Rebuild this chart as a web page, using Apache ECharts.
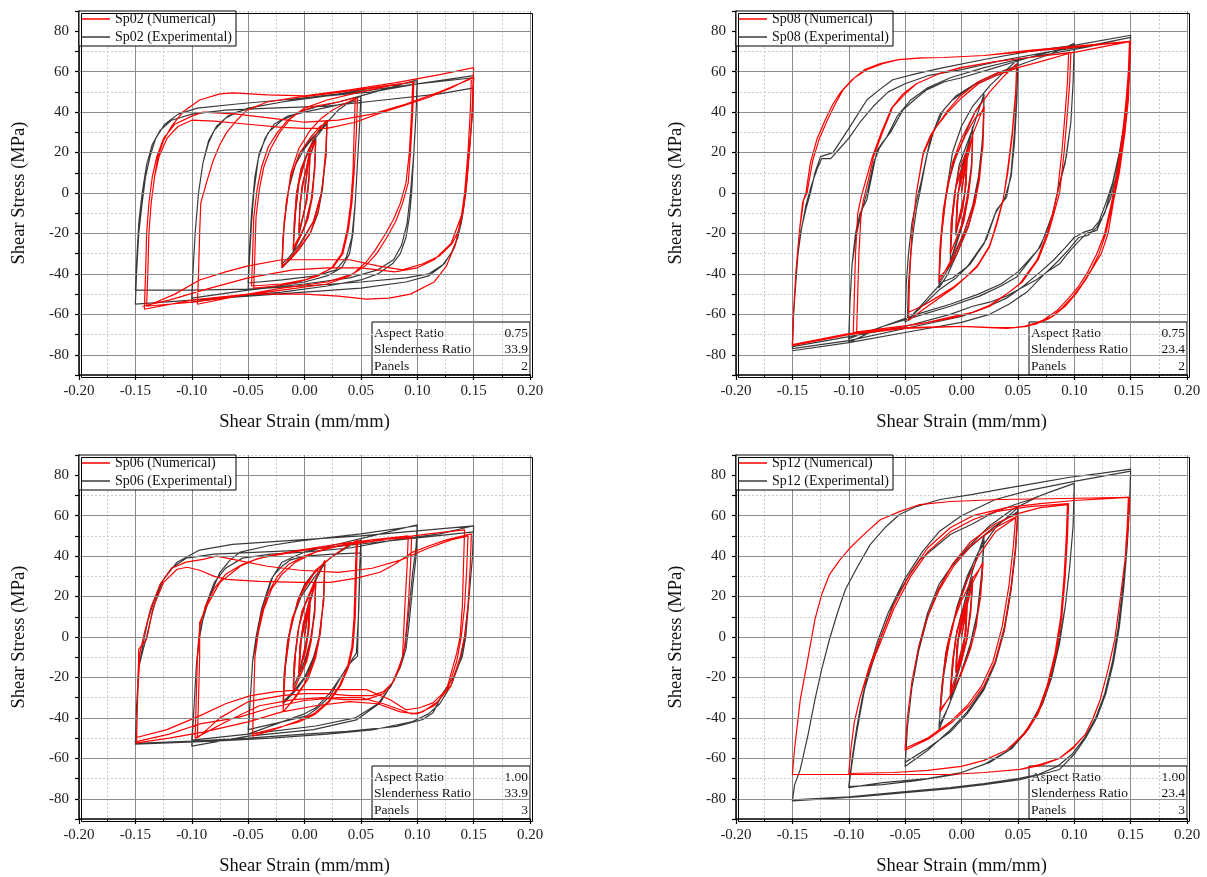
<!DOCTYPE html>
<html><head><meta charset="utf-8">
<script src="https://cdn.jsdelivr.net/npm/echarts@6.0.0/dist/echarts.min.js"></script>
<style>html,body{margin:0;padding:0;background:#fff}#c{width:1207px;height:877px}</style>
</head><body><div id="c"></div>
<script>
const xMin=-0.2, xMax=0.2, xStep=0.05;
const yMin=-90, yMax=90, yStep=10;
const yMajor=[-80,-60,-40,-20,0,20,40,60,80];
const specimens=['Sp02','Sp08','Sp06','Sp12'];
const infoLabels=['Aspect Ratio','Slenderness Ratio','Panels'];
const aspectRatios=['0.75','0.75','1.00','1.00'];
const slendernessRatios=['33.9','23.4','33.9','23.4'];
const panelCounts=['2','2','3','3'];

const sp02Exp=[
[0,0],[0.003,14],[0.005,21],[0.004,8],[0.002,-3],[-0.002,-13],[-0.005,-20],[-0.004,-7],[-0.002,3],[0.002,13],[0.005,22],[0.004,8],[0.001,-6],[-0.005,-21],[-0.004,-6],[-0.001,6],
[0.004,17],[0.008,24],[0.01,28],[0.009,14],[0.007,0],[0.003,-12],[-0.004,-22],[-0.01,-29],[-0.009,-15],[-0.007,0],[-0.003,12],[0.004,22],[0.01,27],[0.009,12],[0.006,-3],[0,-17],[-0.01,-28],[-0.008,-10],[-0.005,5],
[0.001,17],[0.008,26],[0.015,31],[0.02,35],[0.019,20],[0.016,2],[0.012,-10],[0.005,-20],[-0.005,-28],[-0.013,-33],[-0.02,-37],[-0.019,-22],[-0.016,-5],[-0.012,8],[-0.004,20],[0.006,27],[0.014,31],[0.02,34],[0.019,18],[0.015,0],[0.008,-14],[-0.004,-25],[-0.014,-32],[-0.02,-35],[-0.018,-15],[-0.014,2],
[-0.008,14],[0,22],[0.01,29],[0.02,35],[0.03,41],[0.04,45],[0.05,48],[0.049,35],[0.047,15],[0.045,-5],[0.043,-20],[0.04,-30],[0.033,-37],[0.02,-41],[0,-44],[-0.025,-46],[-0.05,-48],
[-0.049,-35],[-0.047,-15],[-0.045,0],[-0.041,17],[-0.035,27],[-0.027,34],[-0.015,38],[0,40],[0.025,43],[0.05,46],[0.049,35],[0.047,15],[0.045,-5],[0.042,-22],[0.037,-32],[0.028,-38],[0.01,-41],[-0.02,-43],[-0.05,-44.5],
[-0.049,-30],[-0.047,-10],[-0.044,8],[-0.04,20],[-0.032,30],[-0.02,36],[0,41],[0.03,45],[0.05,48],[0.075,52],[0.1,56],
[0.099,40],[0.097,20],[0.095,0],[0.093,-12],[0.09,-22],[0.085,-30],[0.078,-35],[0.065,-40],[0.05,-43],[0.02,-46],[-0.02,-49],[-0.06,-51],[-0.1,-54],
[-0.099,-40],[-0.097,-20],[-0.094,0],[-0.09,15],[-0.085,25],[-0.08,31],[-0.07,37],[-0.06,40],[-0.04,43],[-0.02,45],[0,47],[0.03,49],[0.06,52],[0.1,55],
[0.099,40],[0.097,20],[0.094,0],[0.091,-15],[0.086,-26],[0.079,-33],[0.065,-38],[0.04,-42],[0,-45],[-0.05,-48],[-0.1,-52],
[-0.099,-40],[-0.097,-20],[-0.094,0],[-0.09,15],[-0.085,26],[-0.078,33],[-0.068,38],[-0.05,42],[-0.02,45],[0.02,48],[0.06,51],[0.1,54],[0.15,58],
[0.149,40],[0.146,20],[0.143,0],[0.14,-12],[0.136,-22],[0.13,-30],[0.122,-36],[0.11,-41],[0.09,-44],[0.05,-47],[0,-49],[-0.05,-51],[-0.1,-53],[-0.15,-55],
[-0.149,-40],[-0.147,-20],[-0.144,-5],[-0.141,8],[-0.137,18],[-0.132,27],[-0.124,34],[-0.112,39],[-0.095,42],[-0.06,44],[-0.02,46],[0.02,48],[0.06,50],[0.1,54],[0.15,57],
[0.149,40],[0.146,20],[0.143,0],[0.139,-15],[0.133,-27],[0.124,-35],[0.11,-40],[0.09,-42],[0.05,-44],[0,-46],[-0.05,-47.5],[-0.1,-48],[-0.15,-48],
[-0.149,-35],[-0.147,-15],[-0.144,0],[-0.14,14],[-0.135,24],[-0.128,31],[-0.118,36],[-0.1,39],[-0.07,41],[-0.03,42],[0.02,43],[0.07,46],[0.12,49],[0.15,52]
];
const sp02Num=[
[0,0],[0.003,13],[0.005,20],[0.004,6],[0.002,-4],[-0.002,-13],[-0.005,-19],[-0.004,-6],[-0.002,4],[0.002,13],[0.005,21],[0.004,6],[0.001,-6],[-0.005,-20],[-0.004,-5],[-0.001,6],
[0.004,17],[0.008,23],[0.01,26],[0.009,12],[0.007,-2],[0.003,-13],[-0.004,-22],[-0.01,-28],[-0.009,-14],[-0.007,0],[-0.003,12],[0.004,21],[0.01,26],[0.009,11],[0.006,-4],[0,-17],[-0.01,-27],[-0.008,-9],[-0.005,5],
[0.001,17],[0.008,27],[0.015,33],[0.02,36],[0.019,22],[0.016,4],[0.012,-9],[0.005,-20],[-0.005,-28],[-0.013,-33],[-0.02,-36],[-0.019,-22],[-0.016,-4],[-0.012,8],[-0.004,20],[0.006,28],[0.014,33],[0.02,35],[0.019,19],[0.015,0],[0.008,-14],[-0.004,-26],[-0.014,-33],[-0.02,-37],[-0.018,-14],[-0.014,2],
[-0.012,10],[-0.005,22],[0.005,31],[0.015,37],[0.025,41],[0.035,44],[0.047,47],
[0.046,30],[0.044,10],[0.042,-5],[0.039,-18],[0.034,-30],[0.025,-37],[0.014,-40],[0,-43],[-0.02,-45],[-0.047,-46],
[-0.046,-30],[-0.045,-12],[-0.042,2],[-0.038,13],[-0.032,23],[-0.024,30],[-0.015,36],[-0.005,40],[0.01,43],[0.03,45],[0.045,47],
[0.044,30],[0.043,10],[0.041,-5],[0.038,-18],[0.033,-30],[0.024,-37],[0.012,-41],[-0.005,-44],[-0.025,-46],[-0.045,-47],
[-0.044,-30],[-0.043,-12],[-0.04,2],[-0.036,13],[-0.03,22],[-0.022,30],[-0.012,37],[0,42],[0.02,46],[0.05,50],[0.075,53],[0.096,55],
[0.095,40],[0.093,20],[0.09,5],[0.085,-5],[0.079,-13],[0.072,-20],[0.063,-28],[0.055,-34],[0.043,-40],[0.02,-44],[-0.02,-47],[-0.06,-51],[-0.095,-55],
[-0.094,-40],[-0.093,-20],[-0.092,-5],[-0.087,5],[-0.081,16],[-0.075,24],[-0.069,30],[-0.06,36],[-0.051,41],[-0.033,45],[-0.01,47],[0.02,49],[0.06,52],[0.097,55],
[0.096,40],[0.094,20],[0.092,5],[0.087,-5],[0.081,-14],[0.073,-22],[0.064,-30],[0.054,-36],[0.04,-41],[0.02,-45],[-0.02,-48],[-0.06,-51],[-0.1,-54],[-0.14,-56],
[-0.139,-40],[-0.138,-20],[-0.136,-5],[-0.133,8],[-0.13,18],[-0.125,26],[-0.118,33],[-0.108,40],[-0.093,46],[-0.075,49],[-0.063,49.5],[-0.033,48.5],[0,48],[0.04,51],[0.08,54.5],[0.12,58.5],[0.15,62],
[0.149,45],[0.147,25],[0.144,5],[0.141,-8],[0.137,-18],[0.131,-25],[0.12,-31],[0.105,-35],[0.087,-38],[0.065,-36],[0.04,-33],[0.01,-33],[-0.02,-33],[-0.05,-36],[-0.07,-39],[-0.093,-43],[-0.115,-50],[-0.14,-56],
[-0.139,-40],[-0.138,-20],[-0.136,-5],[-0.133,8],[-0.129,18],[-0.122,27],[-0.112,33],[-0.1,36],[-0.08,35.5],[-0.05,34],[-0.02,32.5],[0,32],[0.02,32],[0.045,35],[0.067,39.5],[0.09,43.5],[0.111,47.5],[0.13,52],[0.148,57],
[0.147,40],[0.145,20],[0.142,0],[0.139,-12],[0.134,-25],[0.126,-36],[0.115,-44],[0.094,-50],[0.075,-52],[0.055,-52.5],[0.03,-51],[0,-50],[-0.05,-50],[-0.1,-53],[-0.142,-57.5],
[-0.141,-40],[-0.14,-20],[-0.138,-5],[-0.135,8],[-0.131,18],[-0.125,27],[-0.115,34],[-0.1,38],[-0.09,40],[-0.06,39],[-0.03,37],[0,35],[0.03,36],[0.06,39],[0.09,44],[0.12,50],[0.15,57],
[0.149,40],[0.146,20],[0.143,0],[0.14,-10],[0.13,-25],[0.115,-33],[0.1,-37],[0.08,-39],[0.05,-37],[0.02,-37],[-0.01,-38],[-0.05,-42],[-0.09,-48],[-0.12,-53],[-0.144,-56]
];

const sp08Exp=[
[0,0],[0.003,12],[0.005,20],[0.004,5],[0.001,-8],[-0.005,-20],[-0.004,-5],[-0.001,8],[0.005,21],[0.003,0],[-0.005,-21],[-0.003,0],
[0.003,15],[0.01,33],[0.009,15],[0.006,0],[0.002,-14],[-0.01,-35],[-0.009,-15],[-0.006,0],[-0.002,14],[0.01,32],[0.009,14],[0.005,-2],[0,-16],[-0.01,-34],[-0.008,-12],[-0.005,3],
[0.002,16],[0.01,32],[0.02,49],[0.019,30],[0.016,10],[0.012,-4],[0.006,-16],[-0.004,-30],[-0.012,-40],[-0.02,-47],[-0.019,-30],[-0.016,-10],[-0.012,4],[-0.006,16],[0.004,30],[0.012,40],[0.02,47],[0.019,28],[0.015,8],[0.01,-6],[0.002,-20],[-0.01,-36],[-0.02,-45],[-0.018,-22],[-0.014,-2],
[-0.008,20],[0,33],[0.01,43],[0.025,53],[0.038,60],[0.05,66],[0.049,50],[0.047,30],[0.044,10],[0.04,-2],[0.031,-8.5],[0.022,-23],[0.012,-31],[0.005,-36.5],[-0.008,-42],[-0.017,-44],[-0.03,-52],[-0.048,-63],
[-0.047,-45],[-0.045,-30],[-0.043,-20],[-0.04,-8],[-0.037,0],[-0.033,12],[-0.028,26],[-0.019,39],[-0.008,46],[0.01,53],[0.03,58],[0.05,62],
[0.049,45],[0.047,25],[0.044,8],[0.038,-3],[0.03,-10],[0.02,-25],[0.008,-35],[-0.005,-42],[-0.02,-48],[-0.035,-56],[-0.05,-64],
[-0.049,-45],[-0.047,-30],[-0.044,-15],[-0.04,-4],[-0.036,5],[-0.031,18],[-0.025,30],[-0.016,41],[-0.005,48],[0.015,55],[0.035,60],[0.06,65],[0.08,69],[0.1,74],
[0.099,55],[0.097,35],[0.093,18],[0.087,5],[0.081,-10],[0.075,-19],[0.07,-26.5],[0.065,-30],[0.058,-35],[0.049,-41.5],[0.035,-46],[0.016,-51],[-0.01,-56],[-0.04,-61],[-0.07,-66],[-0.1,-72],
[-0.099,-55],[-0.097,-35],[-0.094,-20],[-0.09,-10],[-0.084,-3.5],[-0.079,10],[-0.075,21],[-0.07,25],[-0.063,30],[-0.052,41],[-0.042,46],[-0.031,51],[-0.015,55],[0,57],[0.03,62],[0.06,67],[0.1,73],
[0.099,55],[0.097,35],[0.092,15],[0.086,2],[0.08,-12],[0.074,-21],[0.068,-28],[0.06,-33],[0.05,-39],[0.035,-45],[0.015,-50],[-0.01,-55],[-0.04,-60],[-0.07,-66],[-0.1,-74],
[-0.099,-55],[-0.097,-35],[-0.093,-20],[-0.088,-8],[-0.083,2],[-0.078,15],[-0.073,22],[-0.066,28],[-0.057,38],[-0.045,46],[-0.03,52],[-0.01,57],[0.02,62],[0.05,66],[0.08,69],[0.11,72],[0.15,77],
[0.149,60],[0.147,46],[0.142,25],[0.137,8],[0.132,-3],[0.125,-12],[0.12,-18.5],[0.111,-20],[0.102,-25],[0.094,-30],[0.087,-35],[0.076,-39],[0.066,-43],[0.053,-47],[0.04,-51],[0.025,-54],[0.01,-56],[-0.01,-60],[-0.05,-66],[-0.1,-71],[-0.15,-76],
[-0.149,-60],[-0.147,-45],[-0.145,-30],[-0.143,-20],[-0.138,-8],[-0.134,0],[-0.13,10],[-0.125,18],[-0.114,20],[-0.108,25],[-0.101,31],[-0.093,38],[-0.084,46],[-0.073,51],[-0.061,56],[-0.04,59],[-0.016,62],[0.02,66],[0.06,70],[0.1,73],[0.15,78],
[0.149,60],[0.146,40],[0.14,20],[0.134,5],[0.128,-5],[0.122,-14],[0.116,-18],[0.108,-19.5],[0.1,-22],[0.092,-27],[0.082,-33],[0.07,-39],[0.055,-46],[0.04,-52],[0.02,-57],[0,-61],[-0.05,-67],[-0.1,-73],[-0.15,-77],
[-0.149,-60],[-0.147,-45],[-0.145,-30],[-0.142,-18],[-0.138,-6],[-0.133,4],[-0.128,12],[-0.124,17],[-0.116,17],[-0.108,22],[-0.1,27],[-0.09,35],[-0.078,43],[-0.065,50],[-0.05,54],[-0.03,58],[0,61],[0.04,66],[0.08,70],[0.115,73],[0.15,77],
[0.149,60],[0.146,40],[0.14,20],[0.134,4],[0.127,-10],[0.12,-17],[0.112,-21],[0.104,-22],[0.095,-28],[0.085,-34],[0.072,-41],[0.058,-49],[0.042,-55],[0.025,-60],[0,-64],[-0.05,-69],[-0.1,-74],[-0.15,-78]
];
const sp08Num=[
[0,0],[0.003,11],[0.005,18],[0.004,4],[0.001,-8],[-0.005,-19],[-0.004,-5],[-0.001,7],[0.005,18],[0.003,0],[-0.005,-19],[-0.003,0],
[0.003,12],[0.01,28],[0.009,12],[0.006,-2],[0.002,-14],[-0.01,-30],[-0.009,-14],[-0.006,0],[-0.002,12],[0.01,28],[0.009,12],[0.005,-3],[0,-16],[-0.01,-30],[-0.008,-12],[-0.005,3],
[0.002,14],[0.01,29],[0.02,43],[0.019,25],[0.016,7],[0.012,-5],[0.006,-17],[-0.004,-30],[-0.012,-37],[-0.02,-42],[-0.019,-26],[-0.016,-8],[-0.012,5],[-0.006,17],[0.004,29],[0.012,37],[0.02,41],[0.019,23],[0.015,5],[0.01,-7],[0.002,-20],[-0.01,-34],[-0.02,-44],[-0.018,-22],[-0.014,-3],
[-0.008,15],[0,27],[0.012,40],[0.025,50],[0.038,58],[0.049,64],[0.048,50],[0.045,30],[0.041,12],[0.037,-3.5],[0.031,-16],[0.025,-26.5],[0.014,-36.5],[0.003,-42],[-0.007,-46.5],[-0.02,-51],[-0.035,-56],[-0.047,-59],
[-0.046,-40],[-0.044,-20],[-0.04,0],[-0.034,20],[-0.027,29],[-0.022,33],[-0.012,41],[-0.001,48],[0.015,55],[0.03,59],[0.049,62],
[0.048,48],[0.045,28],[0.041,10],[0.037,-3],[0.031,-15],[0.025,-26],[0.014,-36],[0.003,-42],[-0.007,-47],[-0.02,-52],[-0.035,-58],[-0.047,-63],
[-0.046,-42],[-0.044,-20],[-0.04,0],[-0.034,19],[-0.027,28],[-0.022,33],[-0.012,40],[0,47],[0.015,54],[0.03,58],[0.05,62],[0.07,65],[0.095,69],
[0.094,55],[0.092,40],[0.089,20],[0.085,0],[0.081,-10],[0.076,-20],[0.067,-33],[0.052,-44.7],[0.04,-50],[0.025,-56],[0.01,-59],[-0.007,-61],[-0.03,-64],[-0.06,-66.5],[-0.093,-68.6],
[-0.092,-50],[-0.091,-30],[-0.089,-10],[-0.087,-3.5],[-0.082,8],[-0.078,18],[-0.07,30],[-0.061,42.5],[-0.05,49],[-0.04,54],[-0.02,59],[-0.001,62],[0.03,65],[0.06,67],[0.097,69.5],
[0.096,55],[0.094,40],[0.091,20],[0.087,0],[0.082,-10],[0.077,-20],[0.068,-33],[0.054,-44],[0.04,-50],[0.025,-55.5],[0.01,-59],[-0.01,-62],[-0.04,-65],[-0.07,-67],[-0.096,-69],
[-0.095,-50],[-0.094,-30],[-0.092,-10],[-0.089,-2],[-0.084,8],[-0.079,18],[-0.071,30],[-0.062,42],[-0.052,49],[-0.04,54],[-0.02,59],[0,62],[0.03,65],[0.06,67],[0.1,69.5],[0.15,75],
[0.149,60],[0.148,46],[0.145,30],[0.14,10],[0.135,-3.5],[0.13,-20],[0.124,-30],[0.117,-36.5],[0.11,-43],[0.102,-49.5],[0.092,-56],[0.081,-61],[0.068,-64],[0.055,-66],[0.04,-67],[0.02,-66.5],[0,-66],[-0.05,-67],[-0.1,-70],[-0.15,-75],
[-0.149,-60],[-0.147,-40],[-0.144,-20],[-0.14,-3.5],[-0.137,0],[-0.132,16],[-0.126,27],[-0.119,36],[-0.112,44],[-0.105,51],[-0.095,57],[-0.084,61],[-0.07,64],[-0.055,66],[-0.035,66.8],[-0.016,67],[0.02,68],[0.06,70],[0.1,72],[0.15,75],
[0.149,60],[0.147,46],[0.144,30],[0.139,10],[0.134,-5],[0.128,-20],[0.122,-30],[0.115,-38],[0.107,-45],[0.099,-51],[0.089,-57],[0.078,-62],[0.065,-65],[0.05,-66.5],[0.03,-66.5],[0,-66],[-0.05,-67],[-0.1,-70],[-0.15,-75.5],
[-0.149,-60],[-0.147,-40],[-0.144,-20],[-0.141,-5],[-0.138,0],[-0.134,15],[-0.128,27],[-0.121,36],[-0.114,44],[-0.107,50],[-0.097,56],[-0.086,61],[-0.072,64],[-0.056,66],[-0.036,66.8],[-0.016,67],[0.02,68],[0.06,70.5],[0.1,72.5],[0.149,75],
[0.148,60],[0.146,46],[0.143,30],[0.138,10],[0.133,-5],[0.127,-20],[0.12,-30],[0.112,-39],[0.104,-46],[0.095,-52],[0.085,-58],[0.072,-63],[0.058,-66],[0.04,-67],[0.02,-66.5],[0,-66],[-0.05,-66.5],[-0.1,-69.5],[-0.15,-75]
];

const sp06Exp=[
[0,0],[0.003,12],[0.005,19],[0.004,6],[0.001,-6],[-0.005,-18],[-0.004,-5],[-0.001,6],[0.005,20],[0.003,2],[-0.005,-19],[-0.003,-2],
[0.003,14],[0.01,28],[0.009,14],[0.006,0],[0.002,-10],[-0.01,-25],[-0.009,-12],[-0.006,2],[-0.002,13],[0.01,28],[0.009,12],[0.005,-2],[0,-12],[-0.01,-25],[-0.008,-8],[-0.005,5],
[0.001,17],[0.01,28],[0.018,37],[0.017,20],[0.014,2],[0.01,-8],[0.003,-18],[-0.007,-26],[-0.019,-33],[-0.018,-18],[-0.015,-2],[-0.011,8],[-0.003,20],[0.008,29],[0.018,36],[0.017,18],[0.013,0],[0.008,-10],[0,-20],[-0.01,-27],[-0.019,-32],[-0.017,-14],[-0.013,2],
[-0.006,18],[0,26],[0.01,33],[0.025,40],[0.04,45],[0.05,48],[0.049,35],[0.048,15],[0.047,-9.6],[0.042,-12],[0.038,-14.5],[0.03,-22],[0.023,-29],[0.012,-35],[0.002,-39],[-0.02,-42],[-0.05,-45.8],
[-0.048,-30],[-0.046,-12],[-0.042,0],[-0.037,15],[-0.028,30],[-0.02,35],[-0.013,38],[0,40],[0.025,41],[0.05,41.6],
[0.049,30],[0.048,12],[0.046,-8],[0.04,-13],[0.032,-20],[0.022,-28],[0.01,-35],[0,-38],[-0.02,-42],[-0.05,-48],
[-0.048,-30],[-0.046,-12],[-0.043,0],[-0.038,14],[-0.03,28],[-0.02,37],[0,42],[0.03,46],[0.06,50],[0.1,55.5],
[0.099,45],[0.096,32],[0.092,10],[0.089,-5],[0.085,-14],[0.078,-22.7],[0.067,-32.6],[0.046,-41],[0.008,-45.8],[-0.05,-49],[-0.1,-54],
[-0.098,-35],[-0.096,-15],[-0.094,-3],[-0.092,5],[-0.084,20],[-0.075,32],[-0.066,38],[-0.057,42],[-0.033,45],[-0.004,47.5],[0.05,51],[0.1,55],
[0.099,40],[0.096,25],[0.093,8],[0.09,-6],[0.085,-15],[0.077,-24],[0.065,-33],[0.045,-40],[0.01,-44],[-0.05,-48],[-0.1,-51],
[-0.098,-35],[-0.096,-15],[-0.093,0],[-0.088,15],[-0.08,27],[-0.07,34],[-0.055,39],[-0.03,41],[0,42],[0.04,44],[0.08,48],[0.12,51],[0.15,55],
[0.149,40],[0.146,20],[0.143,0],[0.14,-9.6],[0.132,-20],[0.123,-27.5],[0.114,-37.4],[0.105,-40.8],[0.082,-44.2],[0.038,-46.7],[0,-48],[-0.05,-50],[-0.1,-51.5],[-0.15,-52.6],
[-0.149,-35],[-0.147,-15],[-0.143,-6],[-0.14,0],[-0.136,10],[-0.131,20],[-0.125,28.5],[-0.113,37],[-0.093,43],[-0.064,45.8],[-0.004,48],[0.05,50],[0.1,52.5],[0.15,55],
[0.149,40],[0.146,20],[0.142,0],[0.138,-12],[0.13,-24],[0.12,-33],[0.11,-38],[0.095,-42],[0.06,-46],[0.02,-48],[-0.03,-50],[-0.08,-51.5],[-0.15,-53],
[-0.149,-35],[-0.147,-15],[-0.143,-3],[-0.139,8],[-0.134,17],[-0.128,26],[-0.118,34],[-0.105,39],[-0.08,41],[-0.04,42],[0,43],[0.05,46],[0.1,49],[0.15,52]
];
const sp06Num=[
[0,0],[0.003,11],[0.005,18],[0.004,4],[0.001,-7],[-0.005,-18],[-0.004,-4],[-0.001,7],[0.005,19],[0.003,1],[-0.005,-19],[-0.003,-1],
[0.003,13],[0.01,27],[0.009,12],[0.006,-2],[0.002,-12],[-0.01,-27],[-0.009,-12],[-0.006,2],[-0.002,13],[0.01,27],[0.009,11],[0.005,-3],[0,-14],[-0.01,-27],[-0.008,-8],[-0.005,5],
[0.001,17],[0.01,29],[0.018,38],[0.017,20],[0.014,2],[0.01,-10],[0.003,-21],[-0.008,-30],[-0.019,-37],[-0.018,-20],[-0.015,-3],[-0.011,9],[-0.003,21],[0.008,31],[0.018,37],[0.017,18],[0.013,0],[0.008,-12],[0,-23],[-0.01,-31],[-0.019,-37],[-0.017,-15],[-0.013,2],
[-0.006,18],[0,25],[0.01,33],[0.025,40],[0.038,45],[0.047,48],
[0.046,30],[0.045,10],[0.043,-5],[0.039,-15],[0.032,-24],[0.022,-32],[0.01,-38],[-0.005,-42],[-0.025,-45],[-0.046,-48],
[-0.045,-30],[-0.044,-10],[-0.042,0],[-0.038,12],[-0.032,22],[-0.024,30],[-0.014,36],[0,40],[0.02,44],[0.046,47],
[0.045,30],[0.044,10],[0.042,-5],[0.038,-15],[0.031,-24],[0.021,-32],[0.008,-38],[-0.008,-42],[-0.028,-46],[-0.046,-49],
[-0.045,-30],[-0.044,-10],[-0.041,2],[-0.036,14],[-0.029,24],[-0.02,31],[-0.008,37],[0.01,42],[0.03,45],[0.06,48],[0.092,50],
[0.091,35],[0.089,15],[0.087,-9.6],[0.083,-16],[0.078,-22.7],[0.07,-27],[0.06,-29],[0.04,-29],[0.02,-28],[0,-28],[-0.02,-29],[-0.05,-32],[-0.075,-40],[-0.095,-50],
[-0.094,-30],[-0.093,-10],[-0.093,7],[-0.087,15],[-0.075,27],[-0.057,35],[-0.045,38],[-0.033,40],[-0.004,43],[0.03,46],[0.06,48],[0.095,49],
[0.094,35],[0.092,15],[0.089,-5],[0.085,-14],[0.079,-22],[0.07,-28],[0.055,-31],[0.035,-31],[0.015,-30],[-0.01,-31],[-0.04,-34],[-0.07,-42],[-0.097,-50],
[-0.096,-30],[-0.095,-10],[-0.093,5],[-0.088,15],[-0.08,24],[-0.07,31],[-0.055,36],[-0.04,39],[-0.02,41],[0,43],[0.03,45],[0.07,48],[0.11,51],[0.142,53],
[0.141,35],[0.14,15],[0.138,0],[0.135,-8],[0.126,-26],[0.114,-32.6],[0.102,-35],[0.09,-36],[0.076,-31],[0.055,-26],[0.023,-26],[0,-26],[-0.025,-27],[-0.048,-29],[-0.07,-33],[-0.093,-39],[-0.122,-45.8],[-0.149,-49.7],
[-0.148,-30],[-0.147,-6],[-0.14,-1],[-0.134,15],[-0.125,27],[-0.113,33.5],[-0.104,34.5],[-0.093,33],[-0.08,30],[-0.069,28.5],[-0.04,27.5],[-0.004,27],[0.023,27],[0.045,29],[0.067,32],[0.08,36],[0.096,42],[0.11,45],[0.126,48],[0.148,51],
[0.147,35],[0.145,15],[0.142,0],[0.138,-10],[0.13,-24],[0.118,-32],[0.105,-37],[0.095,-38],[0.085,-36],[0.07,-33],[0.05,-30],[0.03,-30],[0,-31.4],[-0.03,-35],[-0.06,-40],[-0.093,-43],[-0.12,-48],[-0.149,-51.7],
[-0.148,-30],[-0.146,-8],[-0.142,2],[-0.136,15],[-0.128,26],[-0.118,34],[-0.105,37],[-0.09,38.4],[-0.078,40],[-0.06,38],[-0.033,35],[-0.004,33],[0.03,32],[0.06,34],[0.085,38],[0.11,44],[0.13,48],[0.145,50],
[0.144,35],[0.142,15],[0.139,0],[0.135,-12],[0.127,-26],[0.115,-34],[0.1,-38],[0.085,-37],[0.065,-33],[0.04,-32],[0.01,-34],[-0.02,-37],[-0.05,-42],[-0.09,-47],[-0.12,-50],[-0.15,-52.5]
];

const sp12Exp=[
[0,0],[0.003,10],[0.005,17],[0.004,4],[0.001,-8],[-0.005,-17],[-0.004,-5],[-0.001,6],[0.005,18],[0.003,0],[-0.005,-18],[-0.003,-2],
[0.003,12],[0.01,30],[0.008,14],[0.005,0],[0,-12],[-0.01,-30],[-0.008,-14],[-0.005,0],[0,12],[0.01,30],[0.008,12],[0.004,-3],[-0.002,-16],[-0.01,-31],[-0.007,-10],[-0.004,3],
[0.003,18],[0.01,33],[0.02,50],[0.018,32],[0.014,12],[0.008,-3],[0,-17],[-0.01,-32],[-0.02,-46],[-0.018,-28],[-0.014,-8],[-0.008,6],[0,20],[0.01,36],[0.02,48],[0.018,28],[0.013,8],[0.006,-8],[-0.003,-22],[-0.012,-35],[-0.02,-44],[-0.016,-20],[-0.011,-2],
[-0.004,15],[0.005,30],[0.015,42],[0.03,54],[0.05,64],[0.048,45],[0.044,25],[0.038,5],[0.03,-12],[0.02,-25],[0.005,-37],[-0.01,-46],[-0.03,-56],[-0.05,-64],
[-0.048,-45],[-0.044,-25],[-0.038,-5],[-0.03,12],[-0.02,26],[-0.005,38],[0.015,48],[0.03,55],[0.05,62],
[0.048,43],[0.044,23],[0.038,3],[0.03,-13],[0.02,-26],[0.005,-38],[-0.01,-47],[-0.03,-55],[-0.05,-62],
[-0.048,-45],[-0.044,-25],[-0.038,-7],[-0.03,10],[-0.02,24],[-0.01,34],[0.005,44],[0.025,55],[0.045,63],[0.07,70],[0.1,76],
[0.099,55],[0.096,35],[0.092,15],[0.087,-3],[0.08,-20],[0.072,-33],[0.06,-45],[0.045,-55],[0.025,-62],[0,-67],[-0.03,-70],[-0.07,-72],[-0.1,-74.5],
[-0.097,-62],[-0.094,-50.7],[-0.09,-38],[-0.086,-26],[-0.079,-13],[-0.072,-1],[-0.059,18.5],[-0.048,29],[-0.037,38],[-0.02,46],[-0.01,50.7],[0.01,56],[0.025,60.6],[0.045,65],[0.061,68],[0.08,72],[0.1,76],
[0.099,55],[0.096,35],[0.092,15],[0.086,-3],[0.079,-20],[0.07,-34],[0.058,-46],[0.042,-56],[0.02,-63],[-0.005,-68],[-0.04,-71],[-0.07,-73],[-0.1,-74],
[-0.097,-60],[-0.093,-45],[-0.088,-30],[-0.082,-16],[-0.075,-3],[-0.065,12],[-0.05,29],[-0.035,42],[-0.02,52],[0,60],[0.03,68],[0.06,72.5],[0.1,77],[0.15,82],
[0.149,65],[0.147,45],[0.144,25],[0.14,5],[0.135,-12],[0.128,-28],[0.12,-40],[0.11,-50],[0.1,-58],[0.087,-65.5],[0.07,-68],[0.052,-70.5],[0.02,-73],[-0.01,-75],[-0.05,-77],[-0.09,-79],[-0.15,-81],
[-0.148,-73],[-0.143,-65.5],[-0.136,-48],[-0.13,-31],[-0.124,-16],[-0.117,-1],[-0.11,12],[-0.103,23.5],[-0.092,35],[-0.081,45.7],[-0.068,54],[-0.055,60.6],[-0.04,64.5],[-0.019,68],[0.01,70.5],[0.034,73],[0.065,76],[0.096,79],[0.125,81],[0.15,83],
[0.149,65],[0.147,45],[0.143,25],[0.139,5],[0.134,-12],[0.127,-28],[0.119,-40],[0.109,-50],[0.098,-58],[0.085,-64],[0.068,-68],[0.05,-70],[0.02,-72.5],[-0.01,-74.5],[-0.05,-76.5],[-0.1,-79],[-0.15,-80.5]
];
const sp12Num=[
[0,0],[0.003,9],[0.005,16],[0.004,3],[0.001,-8],[-0.005,-17],[-0.004,-4],[-0.001,6],[0.005,17],[0.003,0],[-0.005,-17],[-0.003,-1],
[0.003,11],[0.01,27],[0.008,12],[0.005,-1],[0,-12],[-0.01,-27],[-0.008,-12],[-0.005,0],[0,11],[0.01,27],[0.008,11],[0.004,-3],[-0.002,-14],[-0.01,-28],[-0.007,-9],[-0.004,3],
[0.003,15],[0.01,27],[0.019,37],[0.017,22],[0.013,5],[0.008,-6],[0,-18],[-0.01,-29],[-0.019,-37],[-0.017,-22],[-0.013,-5],[-0.008,6],[0,18],[0.01,29],[0.019,36],[0.017,20],[0.012,3],[0.006,-9],[-0.003,-21],[-0.012,-31],[-0.019,-36],[-0.016,-18],[-0.011,-3],
[-0.004,14],[0.005,28],[0.015,40],[0.03,52],[0.048,59],[0.046,45],[0.042,25],[0.036,5],[0.028,-12],[0.018,-24],[0.005,-34],[-0.01,-42],[-0.03,-50],[-0.05,-55],
[-0.048,-40],[-0.044,-22],[-0.038,-5],[-0.03,10],[-0.02,23],[-0.007,35],[0.01,46],[0.03,54],[0.05,60],
[0.048,44],[0.044,24],[0.038,4],[0.03,-12],[0.02,-24],[0.007,-34],[-0.008,-42],[-0.028,-50],[-0.05,-56],
[-0.048,-40],[-0.044,-22],[-0.038,-5],[-0.03,10],[-0.02,24],[-0.008,36],[0.008,47],[0.03,56],[0.05,61],[0.07,64],[0.094,65.5],
[0.093,50],[0.091,30],[0.088,10],[0.083,-8],[0.076,-24],[0.067,-38],[0.055,-48],[0.04,-56],[0.02,-61],[0,-64],[-0.03,-66],[-0.06,-67],[-0.1,-67.5],
[-0.098,-55],[-0.095,-42],[-0.09,-30],[-0.081,-15],[-0.072,-3],[-0.06,14],[-0.045,30],[-0.03,42],[-0.01,52],[0.01,58],[0.03,62],[0.06,64.5],[0.095,66],
[0.094,50],[0.092,30],[0.089,10],[0.084,-8],[0.077,-24],[0.068,-38],[0.056,-48],[0.04,-56],[0.02,-61],[0,-64],[-0.03,-66],[-0.06,-67],[-0.1,-67.5],
[-0.098,-55],[-0.095,-42],[-0.09,-30],[-0.082,-15],[-0.073,-2],[-0.06,16],[-0.045,32],[-0.03,44],[-0.01,54],[0.01,60],[0.04,64],[0.07,66],[0.1,67.5],[0.148,69],
[0.147,55],[0.145,38],[0.141,20],[0.136,-1],[0.13,-16],[0.123,-31],[0.117,-40],[0.11,-48],[0.1,-54],[0.087,-60],[0.07,-63],[0.052,-65.5],[0.02,-67],[-0.01,-68],[-0.06,-68],[-0.1,-68],[-0.15,-68],
[-0.148,-55],[-0.143,-31],[-0.136,-10],[-0.13,8.7],[-0.124,21],[-0.117,31],[-0.108,38],[-0.099,44],[-0.086,51],[-0.072,58],[-0.055,62],[-0.037,65.5],[-0.01,67],[0.034,68],[0.09,68.5],[0.149,69],
[0.148,55],[0.145,38],[0.141,20],[0.136,-1],[0.13,-16],[0.123,-31],[0.116,-41],[0.11,-48],[0.099,-55],[0.087,-60],[0.07,-63.5],[0.052,-65.5],[0.02,-67],[-0.01,-68],[-0.06,-68],[-0.1,-68],[-0.15,-68]
];

const numData=[sp02Num,sp08Num,sp06Num,sp12Num];
const expData=[sp02Exp,sp08Exp,sp06Exp,sp12Exp];

const FONT='"Liberation Serif","Times New Roman",serif';
const RED='#ff0000', GRAY='#3a3a3a';
const rects=[{l:79,t:11},{l:736,t:11},{l:79,t:455},{l:736,t:455}];
const W=451, H=364;
const LINE_ICON='path://M0,0H58V3H0Z';

const grid=[], xAxis=[], yAxis=[], series=[], legend=[], graphic=[];
rects.forEach((r,i)=>{
  grid.push({left:r.l, top:r.t, width:W, height:H, containLabel:false});
  xAxis.push({type:'value', gridIndex:i, min:xMin, max:xMax, interval:xStep,
    name:'Shear Strain (mm/mm)', nameLocation:'middle', nameGap:38,
    nameTextStyle:{fontFamily:FONT, fontSize:18.5, color:'#111'},
    axisLine:{show:true, onZero:false, lineStyle:{color:'#000', width:1.5}},
    axisTick:{show:true, length:5, lineStyle:{color:'#000', width:1.2}},
    minorTick:{show:true, splitNumber:2, length:3, lineStyle:{color:'#000', width:1}},
    splitLine:{show:true, lineStyle:{color:'#8c8c8c', width:1}},
    minorSplitLine:{show:true, lineStyle:{color:'#cccccc', width:1, type:[2,2]}},
    axisLabel:{fontFamily:FONT, fontSize:15, color:'#222', margin:9, formatter:v=>v.toFixed(2)}
  });
  yAxis.push({type:'value', gridIndex:i, min:yMin, max:yMax, interval:yStep,
    name:'Shear Stress (MPa)', nameLocation:'middle', nameGap:50,
    nameTextStyle:{fontFamily:FONT, fontSize:18.5, color:'#111'},
    axisLine:{show:true, onZero:false, lineStyle:{color:'#000', width:1.5}},
    axisTick:{show:true, length:4, lineStyle:{color:'#000', width:1.2}},
    splitLine:{show:true, lineStyle:{color:'#cccccc', width:1, type:[2,2]}},
    axisLabel:{fontFamily:FONT, fontSize:15, color:'#222', margin:10,
      formatter:v=>(Math.round(v)%20===0 && Math.abs(v)<90)?String(Math.round(v)):''}
  });
  series.push({type:'line', name:'_grid'+i, xAxisIndex:i, yAxisIndex:i, data:[], z:1, silent:true,
    markLine:{silent:true, symbol:'none', label:{show:false}, animation:false,
      lineStyle:{color:'#8c8c8c', width:1, type:'solid'},
      data:yMajor.map(v=>({yAxis:v}))}});
  const nName=specimens[i]+' (Numerical)', eName=specimens[i]+' (Experimental)';
  series.push({type:'line', name:eName, xAxisIndex:i, yAxisIndex:i, data:expData[i], showSymbol:false, symbol:'none', z:2,
    lineStyle:{color:GRAY, width:1.2}, itemStyle:{color:GRAY}});
  series.push({type:'line', name:nName, xAxisIndex:i, yAxisIndex:i, data:numData[i], showSymbol:false, symbol:'none', z:3,
    lineStyle:{color:RED, width:1.2}, itemStyle:{color:RED}});
  legend.push({data:[nName,eName], left:r.l, top:r.t, orient:'vertical', itemGap:4, itemWidth:29, itemHeight:14,
    icon:LINE_ICON, symbolKeepAspect:true,
    padding:[1,4,2,2], backgroundColor:'#fff', borderColor:'#000', borderWidth:1, selectedMode:false,
    textStyle:{fontFamily:FONT, fontSize:14, color:'#111'}, z:50});
  graphic.push({type:'rect', left:r.l, top:r.t, z:90, silent:true,
    shape:{x:0,y:0,width:W,height:H}, style:{fill:null, stroke:'#000', lineWidth:1}});
  const tx=r.l+W-158, ty=r.t+H-53;
  const vals=[aspectRatios[i], slendernessRatios[i], panelCounts[i]];
  const kids=[{type:'rect', shape:{x:0,y:0,width:158,height:53}, style:{fill:'#fff', stroke:'#000', lineWidth:1}}];
  infoLabels.forEach((lab,k)=>{
    kids.push({type:'text', x:2, y:11+k*16.5, style:{text:lab, font:'13.5px '+FONT, fill:'#111', verticalAlign:'middle', align:'left'}});
    kids.push({type:'text', x:156, y:11+k*16.5, style:{text:vals[k], font:'13.5px '+FONT, fill:'#111', verticalAlign:'middle', align:'right'}});
  });
  graphic.push({type:'group', x:tx, y:ty, z:100, silent:true, children:kids});
});

const chart=echarts.init(document.getElementById('c'), null, {renderer:'canvas'});
chart.setOption({animation:false, backgroundColor:'#fff', grid, xAxis, yAxis, series, legend, graphic});
</script>
</body></html>
